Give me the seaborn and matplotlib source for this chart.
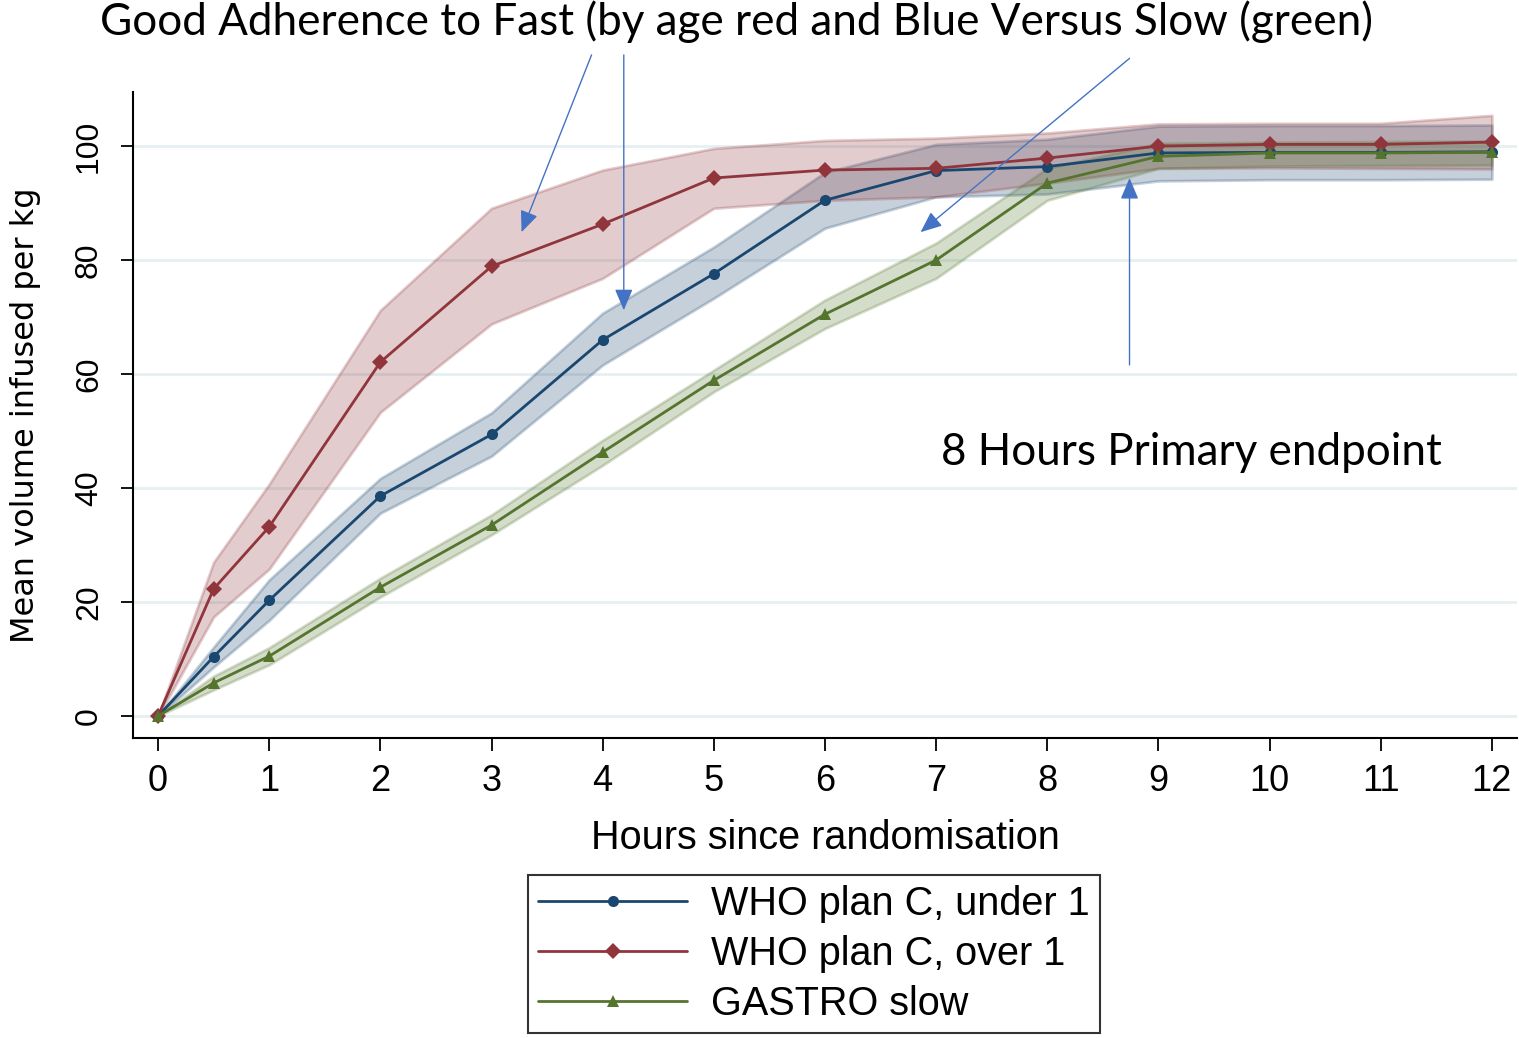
import numpy as np
import pandas as pd
import matplotlib
matplotlib.use("Agg")
import matplotlib.pyplot as plt
import seaborn as sns

hours = [0, 0.5, 1, 2, 3, 4, 5, 6, 7, 8, 9, 10, 11, 12]

under1_mean = [0, 10.4, 20.3, 38.6, 49.4, 66.0, 77.6, 90.5, 95.7, 96.4, 98.8, 98.9, 98.9, 99.0]
under1_low = [0, 8.6, 16.8, 35.6, 45.6, 61.6, 73.3, 85.6, 91.1, 91.6, 93.9, 94.1, 94.1, 94.2]
under1_high = [0, 12.1, 23.9, 41.7, 53.2, 70.7, 82.3, 95.4, 100.3, 101.2, 103.5, 103.6, 103.6, 103.7]

over1_mean = [0, 22.3, 33.2, 62.1, 78.9, 86.3, 94.4, 95.8, 96.1, 97.9, 100.0, 100.3, 100.3, 100.7]
over1_low = [0, 17.4, 25.8, 53.3, 68.8, 76.8, 89.1, 90.5, 91.1, 93.5, 96.1, 96.2, 96.1, 96.0]
over1_high = [0, 27.0, 40.7, 71.2, 89.1, 95.8, 99.6, 101.0, 101.4, 102.3, 103.9, 104.0, 104.0, 105.4]

slow_mean = [0, 5.8, 10.5, 22.6, 33.5, 46.3, 58.9, 70.5, 80.0, 93.5, 98.2, 98.8, 98.8, 98.9]
slow_low = [0, 4.6, 9.0, 20.9, 31.8, 44.0, 56.9, 68.0, 76.8, 90.5, 96.1, 96.5, 96.6, 96.7]
slow_high = [0, 7.0, 12.0, 24.2, 35.3, 48.4, 60.7, 73.0, 83.0, 96.1, 100.5, 100.7, 100.8, 100.9]

labels = ["WHO plan C, under 1", "WHO plan C, over 1", "GASTRO slow"]
colors = ["#1a476f", "#90353b", "#55752f"]
markers = ["o", "D", "^"]

sns.set_style("white")
plt.rcParams["font.family"] = ["Liberation Sans", "DejaVu Sans"]
plt.rcParams.update({"text.color": "black", "axes.labelcolor": "black",
                     "xtick.color": "black", "ytick.color": "black"})

fig = plt.figure(figsize=(15.19, 10.38), dpi=100)
ax = fig.add_axes([0.0876, 0.289, 0.911, 0.6224])

series = [
    (under1_mean, under1_low, under1_high),
    (over1_mean, over1_low, over1_high),
    (slow_mean, slow_low, slow_high),
]

# confidence bands first, lines on top
for (m, lo, hi), lab, col in zip(series, labels, colors):
    ax.fill_between(hours, lo, hi, color=col, alpha=0.25, linewidth=2,
                    edgecolor=matplotlib.colors.to_rgba(col, 0.3), zorder=2)

for (m, lo, hi), lab, col, mk in zip(series, labels, colors, markers):
    df = pd.DataFrame({"hours": hours, "vol": m})
    sns.lineplot(data=df, x="hours", y="vol", ax=ax, color=col, marker=mk,
                 markersize=8, markeredgewidth=0, linewidth=2, label=lab, zorder=3)

ax.set_xlim(-0.225, 12.225)
ax.set_ylim(-3.86, 109.5)
ax.set_xticks(range(0, 13))
ax.set_yticks(range(0, 101, 20))
ax.yaxis.grid(True, color="#e6eff1", linewidth=2)
ax.xaxis.grid(False)
ax.set_axisbelow(True)
for s in ["top", "right"]:
    ax.spines[s].set_visible(False)
for s in ["left", "bottom"]:
    ax.spines[s].set_color("black")
    ax.spines[s].set_linewidth(1.5)
ax.tick_params(axis="both", direction="out", length=9, width=1.3, color="black",
               bottom=True, left=True)
ax.tick_params(axis="x", labelsize=26, pad=10)
ax.tick_params(axis="y", labelsize=23, pad=12)
for t in ax.get_yticklabels():
    t.set_rotation(90)
    t.set_va("center")

ax.set_xlabel("Hours since randomisation", fontsize=28.5, labelpad=14)
ax.set_ylabel("Mean volume infused per kg", fontsize=23, labelpad=24,
              family=["DejaVu Sans"])

fig.text(0.485, 0.979, "Good Adherence to Fast (by age red and Blue Versus Slow (green)",
         ha="center", va="center", fontsize=31.7, family=["Lato", "DejaVu Sans"])
ax.text(7.04, 46.3, "8 Hours Primary endpoint", ha="left", va="center",
        fontsize=31.7, family=["Lato", "DejaVu Sans"])

arrow_col = "#4472c4"
arrows = [((3.27, 84.9), (3.90, 116.0)),
          ((4.19, 71.2), (4.19, 116.0)),
          ((6.86, 84.9), (8.74, 115.4)),
          ((8.74, 94.4), (8.74, 61.6))]
for tip, tail in arrows:
    ax.annotate("", xy=tip, xytext=tail, annotation_clip=False,
                arrowprops=dict(arrowstyle="-|>,head_length=1.3,head_width=0.55",
                                color=arrow_col, linewidth=1.0, shrinkA=0, shrinkB=0))

handles, labs = ax.get_legend_handles_labels()
ax.get_legend().remove()
leg = fig.legend(handles, labs, loc="upper center", bbox_to_anchor=(0.536, 0.157),
                 fontsize=28.5, handlelength=3.75, frameon=True, fancybox=False,
                 labelspacing=0.3, borderpad=0.25, borderaxespad=0,
                 handletextpad=0.62)
leg.get_frame().set_edgecolor("black")
leg.get_frame().set_linewidth(1.5)
for h in leg.legend_handles:
    h.set_markersize(8)

fig.savefig("out.png", dpi=100)
